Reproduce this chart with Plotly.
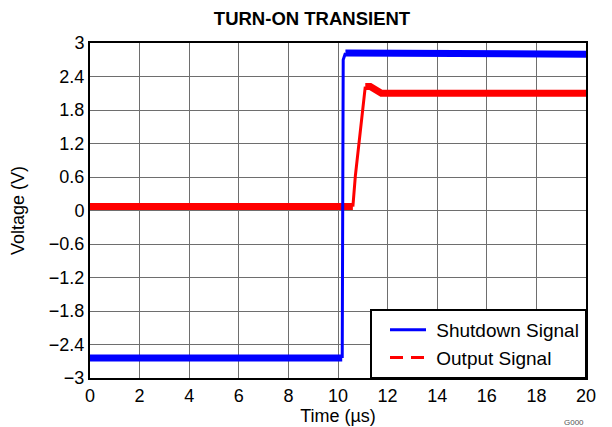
import plotly.graph_objects as go

# Shutdown (enable) pin voltage vs time, key points of the trace
shutdown_t = [0.0, 10.17, 10.21, 10.30, 20.0]
shutdown_v = [-2.64, -2.64, 2.70, 2.82, 2.80]

# Regulator output voltage vs time
output_t = [0.0, 10.60, 10.70, 11.10, 11.30, 11.75, 20.0]
output_v = [0.07, 0.07, 0.62, 2.22, 2.22, 2.10, 2.10]

x_ticks = [0, 2, 4, 6, 8, 10, 12, 14, 16, 18, 20]
y_ticks = [-3, -2.4, -1.8, -1.2, -0.6, 0, 0.6, 1.2, 1.8, 2.4, 3]
y_tick_text = ["\u22123", "\u22122.4", "\u22121.8", "\u22121.2", "\u22120.6", "0",
               "0.6", "1.2", "1.8", "2.4", "3"]

BLUE = "#0000ff"
RED = "#ff0000"
FONT = "Liberation Sans, Arial, sans-serif"
GAP = "\u00a0"  # extra room between legend sample and its label

fig = go.Figure()

def add_segments(t, v, color, flat_ranges, edge_ranges):
    # noisy flat portions are drawn as a thick band, edges as a thinner line
    for a, b in edge_ranges:
        fig.add_trace(go.Scatter(x=t[a:b], y=v[a:b], mode="lines",
                                 line=dict(color=color, width=3),
                                 showlegend=False, hoverinfo="skip"))
    for a, b in flat_ranges:
        fig.add_trace(go.Scatter(x=t[a:b], y=v[a:b], mode="lines",
                                 line=dict(color=color, width=7),
                                 showlegend=False, hoverinfo="skip"))

add_segments(output_t, output_v, RED, [(0, 2), (3, 7)], [(1, 4)])
add_segments(shutdown_t, shutdown_v, BLUE, [(0, 2), (3, 5)], [(1, 4)])

# legend entries
fig.add_trace(go.Scatter(x=[None], y=[None], mode="lines", name=GAP + "Shutdown Signal",
                         line=dict(color=BLUE, width=3)))
fig.add_trace(go.Scatter(x=[None], y=[None], mode="lines", name=GAP + "Output Signal",
                         line=dict(color=RED, width=3, dash="13px,8px")))

axis_common = dict(
    showgrid=True, gridcolor="#6e6e6e", gridwidth=1,
    showline=True, linecolor="black", linewidth=2, mirror=True,
    ticks="", zeroline=False, automargin=False,
    tickfont=dict(family=FONT, size=18, color="black"),
)

fig.update_layout(
    width=612, height=427,
    margin=dict(l=90, r=26, t=43, b=49),
    paper_bgcolor="white", plot_bgcolor="white",
    font=dict(family=FONT, size=18, color="black"),
    title=dict(text="<b>TURN-ON TRANSIENT</b>", x=312 / 612, xanchor="center",
               y=1 - 19 / 427, yanchor="middle",
               font=dict(family=FONT, size=18.5, color="black")),
    xaxis=dict(range=[0, 20], tickvals=x_ticks, ticktext=[str(v) for v in x_ticks],
               title=dict(text="Time (\u00b5s)", standoff=4,
                          font=dict(family=FONT, size=18)),
               **axis_common),
    yaxis=dict(range=[-3, 3], tickvals=y_ticks, ticktext=y_tick_text,
               title=dict(text="Voltage (V)", standoff=20,
                          font=dict(family=FONT, size=18)),
               **axis_common),
    legend=dict(x=(385 - 90) / 496, y=(378 - 344) / 335, xanchor="left", yanchor="middle",
                bgcolor="rgba(0,0,0,0)", borderwidth=0,
                font=dict(family=FONT, size=19, color="black"),
                tracegroupgap=0, itemwidth=36),
    showlegend=True,
)

# white legend frame with black border in the lower-right corner of the plot
fig.add_shape(type="rect", xref="paper", yref="paper",
              x0=(371 - 90) / 496, x1=1.0, y0=0.0, y1=(378 - 310) / 335,
              line=dict(color="black", width=2), fillcolor="white", layer="above")

fig.add_annotation(text="G000", xref="paper", yref="paper", x=1.0, y=0.0,
                   yshift=-38, xanchor="right", yanchor="top", showarrow=False,
                   font=dict(family=FONT, size=8, color="#555555"))

fig.write_html("out.html")
